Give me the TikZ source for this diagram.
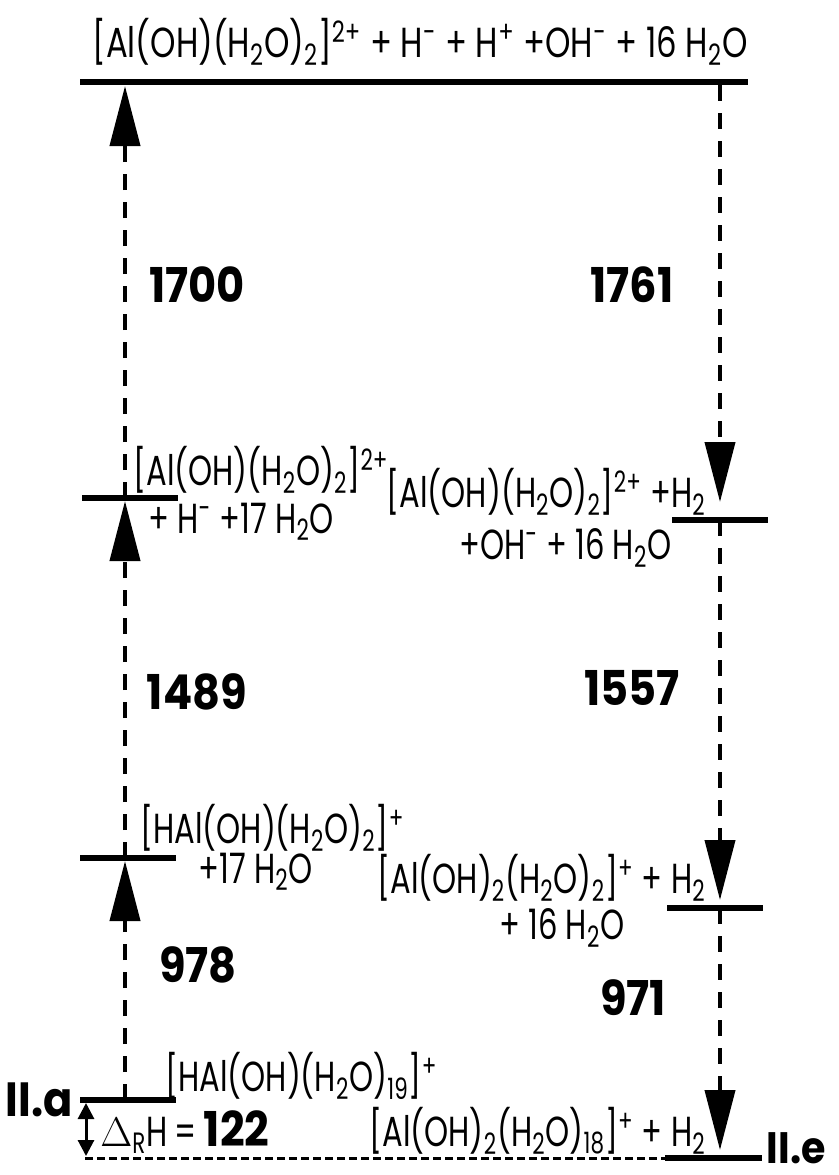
\documentclass[tikz,border=0pt]{standalone}
\usepackage{fontspec}
\setmainfont{Poppins}
\newfontfamily\chemfont{Poppins}[FakeStretch=0.73]
\newfontfamily\chemlarga{Poppins}[FakeStretch=0.77]
\newfontfamily\numfont{Poppins}[FakeStretch=0.9]
\usetikzlibrary{arrows.meta}
\newcommand{\pedice}[1]{\textsubscript{#1}}
\newcommand{\apice}[1]{\textsuperscript{#1}}

\begin{document}
\begin{tikzpicture}[x=0.5pt, y=-0.5pt,
  livello/.style={line width=3pt},
  freccia/.style={line width=2pt, dash pattern=on 8pt off 6pt, -{Triangle[width=15pt, length=30pt]}},
  chem/.style={font=\chemfont\fontsize{21}{25}\selectfont, inner sep=0pt},
  num/.style={font=\numfont\fontsize{24}{28}\selectfont\bfseries, inner sep=0pt}
    ]
    \useasboundingbox (0,0) rectangle (839,1175);

    % Livelli
    \coordinate (topL) at (80,82);   \coordinate (topR) at (748,82);
    \coordinate (s2L) at (82,498);   \coordinate (s2R) at (178,498);
    \coordinate (d2L) at (672,520);  \coordinate (d2R) at (768,520);
    \coordinate (s3L) at (80,858);   \coordinate (s3R) at (176,858);
    \coordinate (d3L) at (667,908);  \coordinate (d3R) at (763,908);
    \coordinate (iiaL) at (80,1100); \coordinate (iiaR) at (176,1100);
    \coordinate (iieL) at (665,1158); \coordinate (iieR) at (762,1158);

    \draw[livello] (topL) -- (topR);
    \draw[livello] (s2L) -- (s2R);
    \draw[livello] (d2L) -- (d2R);
    \draw[livello] (s3L) -- (s3R);
    \draw[livello] (d3L) -- (d3R);
    \draw[livello] (iiaL) -- (iiaR);
    \draw[livello] (iieL) -- (iieR);

    % Frecce a sinistra
    \coordinate (a1) at (125,1100); \coordinate (a2) at (125,861);
    \coordinate (a3) at (125,858);  \coordinate (a4) at (125,501);
    \coordinate (a5) at (125,498);  \coordinate (a6) at (125,86);
    \draw[freccia] (a1) -- (a2);
    \draw[freccia] (a3) -- (a4);
    \draw[freccia] (a5) -- (a6);

    % Frecce a destra
    \coordinate (b1) at (720,85);  \coordinate (b2) at (720,502);
    \coordinate (b3) at (720,520); \coordinate (b4) at (720,900);
    \coordinate (b5) at (720,908); \coordinate (b6) at (720,1150);
    \draw[freccia] (b1) -- (b2);
    \draw[freccia] (b3) -- (b4);
    \draw[freccia] (b5) -- (b6);

    % Riferimento tratteggiato e Delta_R H
    \coordinate (base) at (85,1158);
    \draw[line width=1.5pt, dash pattern=on 4pt off 2pt] (base) -- (iieL);
    \coordinate (dh1) at (86,1103);
    \coordinate (dh2) at (86,1156);
    \draw[line width=1.5pt, {Triangle[width=8pt, length=8pt]}-{Triangle[width=8pt, length=8pt]}] (dh1) -- (dh2);

    % Energie
    \node[num] (e1700) at (197,285) {1700};
    \node[num] (e1761) at (632,285) {1761};
    \node[num] (e1489) at (197,692) {1489};
    \node[num] (e1557) at (632,688) {1557};
    \node[num] (e978) at (198,965) {978};
    \node[num] (e971) at (633,998) {971};

    % Specie
    \node[chem, font=\chemlarga\fontsize{21}{25}\selectfont] (top) at (420,42) {[Al(OH)(H\pedice{2}O)\pedice{2}]\apice{2+} + H\apice{-} + H\apice{+} +OH\apice{-} + 16 H\pedice{2}O};
    \node[chem, anchor=west] (s2a) at (133,470) {[Al(OH)(H\pedice{2}O)\pedice{2}]\apice{2+}};
    \node[chem, anchor=west] (s2b) at (148,522) {+ H\apice{-} +17 H\pedice{2}O};
    \node[chem, anchor=east] (d2a) at (706,492) {[Al(OH)(H\pedice{2}O)\pedice{2}]\apice{2+} +H\pedice{2}};
    \node[chem, anchor=east] (d2b) at (672,548) {+OH\apice{-} + 16 H\pedice{2}O};
    \node[chem, anchor=west] (s3a) at (140,828) {[HAl(OH)(H\pedice{2}O)\pedice{2}]\apice{+}};
    \node[chem, anchor=west] (s3b) at (198,872) {+17 H\pedice{2}O};
    \node[chem, anchor=east] (d3a) at (706,878) {[Al(OH)\pedice{2}(H\pedice{2}O)\pedice{2}]\apice{+} + H\pedice{2}};
    \node[chem, anchor=east] (d3b) at (625,928) {+ 16 H\pedice{2}O};
    \node[chem, anchor=west] (iiat) at (165,1076) {[HAl(OH)(H\pedice{2}O)\pedice{19}]\apice{+}};
    \node[chem, anchor=east] (iiet) at (706,1131) {[Al(OH)\pedice{2}(H\pedice{2}O)\pedice{18}]\apice{+} + H\pedice{2}};
    \node[chem, anchor=west] (dh) at (100,1132) {$\Delta$\pedice{R}H\,=\,{\numfont\bfseries\fontsize{24}{28}\selectfont 122}};

    % Stati
    \node[num, anchor=east] (iia) at (73,1100) {II.a};
    \node[num, font=\numfont\fontsize{22}{26}\selectfont\bfseries, anchor=east] (iie) at (826,1148) {II.e};
\end{tikzpicture}
\end{document}
